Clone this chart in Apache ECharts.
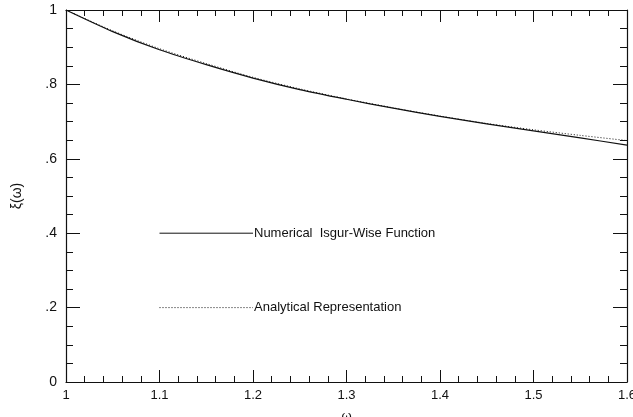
<!DOCTYPE html>
<html>
<head>
<meta charset="utf-8">
<script src="https://cdn.jsdelivr.net/npm/echarts@6/dist/echarts.min.js"></script>
<style>html,body{margin:0;padding:0;background:#fff}#c{width:633px;height:417px}</style>
</head>
<body>
<div id="c"></div>
<script>
const omega = [1.00,1.05,1.10,1.15,1.20,1.25,1.30,1.35,1.40,1.45,1.50,1.55,1.60];
const numerical = [1.000,0.942,0.893,0.853,0.817,0.786,0.760,0.736,0.714,0.694,0.675,0.656,0.637];
const analytical = [1.000,0.944,0.896,0.856,0.819,0.788,0.761,0.737,0.715,0.695,0.678,0.663,0.649];
const legendX = [1.1, 1.2];
const legendY = [0.4, 0.2];
const seriesNames = ['Numerical  Isgur-Wise Function', 'Analytical Representation'];
const xTicks = ['1','1.1','1.2','1.3','1.4','1.5','1.6'];
const yTicks = ['0','.2','.4','.6','.8','1'];

const FONT = '"Liberation Sans", Arial, sans-serif';
const INK = '#111';
const DOT = [1, 2];
const chart = echarts.init(document.getElementById('c'), null, {renderer:'canvas'});

function axisBase(extra) {
  return Object.assign({
    axisLine: {show: true, onZero: false, lineStyle: {color: INK, width: 1.2}},
    axisTick: {show: true, inside: true, length: 12, lineStyle: {color: INK, width: 1}},
    minorTick: {show: true, length: 6, lineStyle: {color: INK, width: 1}},
    splitLine: {show: false},
    minorSplitLine: {show: false}
  }, extra);
}

const xOpt = {type:'value', min:1, max:1.6, interval:0.1};
const yOpt = {type:'value', min:0, max:1, interval:0.2};

const pair = (xs, yv) => xs.map(x => [x, yv]);

chart.setOption({
  animation: false,
  backgroundColor: '#fff',
  grid: {left: 66, right: 6, top: 10, bottom: 35, containLabel: false, outerBoundsMode: 'none'},
  xAxis: [
    axisBase(Object.assign({}, xOpt, {
      position: 'bottom',
      name: 'ω', nameLocation: 'middle', nameGap: 28,
      nameTextStyle: {fontFamily: FONT, fontSize: 13, color: INK},
      minorTick: {show: true, splitNumber: 5, length: 6, lineStyle: {color: INK, width: 1}},
      axisLabel: {margin: 7, fontFamily: FONT, fontSize: 13, color: INK,
        formatter: v => xTicks[Math.round((v - 1) * 10)] }
    })),
    axisBase(Object.assign({}, xOpt, {
      position: 'top',
      minorTick: {show: true, splitNumber: 5, length: 6, lineStyle: {color: INK, width: 1}},
      axisLabel: {show: false}
    }))
  ],
  yAxis: [
    axisBase(Object.assign({}, yOpt, {
      position: 'left',
      name: 'ξ(ω)', nameLocation: 'middle', nameGap: 42, nameRotate: 90,
      nameTextStyle: {fontFamily: FONT, fontSize: 14, color: INK},
      axisTick: {show: true, inside: true, length: 14, lineStyle: {color: INK, width: 1}},
      minorTick: {show: true, splitNumber: 4, length: 7, lineStyle: {color: INK, width: 1}},
      axisLabel: {margin: 9, fontFamily: FONT, fontSize: 14, color: INK,
        formatter: v => yTicks[Math.round(v * 5)] }
    })),
    axisBase(Object.assign({}, yOpt, {
      position: 'right',
      axisTick: {show: true, inside: true, length: 14, lineStyle: {color: INK, width: 1}},
      minorTick: {show: true, splitNumber: 4, length: 7, lineStyle: {color: INK, width: 1}},
      axisLabel: {show: false}
    }))
  ],
  series: [
    {
      name: seriesNames[0], type: 'line', smooth: 0.3, showSymbol: false,
      data: omega.map((x, i) => [x, numerical[i]]),
      lineStyle: {color: INK, width: 1.2, type: 'solid'}
    },
    {
      name: seriesNames[1], type: 'line', smooth: 0.3, showSymbol: false,
      data: omega.map((x, i) => [x, analytical[i]]),
      lineStyle: {color: INK, width: 1, type: DOT}
    },
    {
      name: 'leg1', type: 'line', showSymbol: false, silent: true,
      data: pair(legendX, legendY[0]),
      lineStyle: {color: INK, width: 1, type: 'solid'},
      endLabel: {show: true, formatter: seriesNames[0], distance: 1,
        fontFamily: FONT, fontSize: 13, color: INK}
    },
    {
      name: 'leg2', type: 'line', showSymbol: false, silent: true,
      data: pair(legendX, legendY[1]),
      lineStyle: {color: INK, width: 1, type: DOT},
      endLabel: {show: true, formatter: seriesNames[1], distance: 1,
        fontFamily: FONT, fontSize: 13, color: INK}
    }
  ]
});
</script>
</body>
</html>
